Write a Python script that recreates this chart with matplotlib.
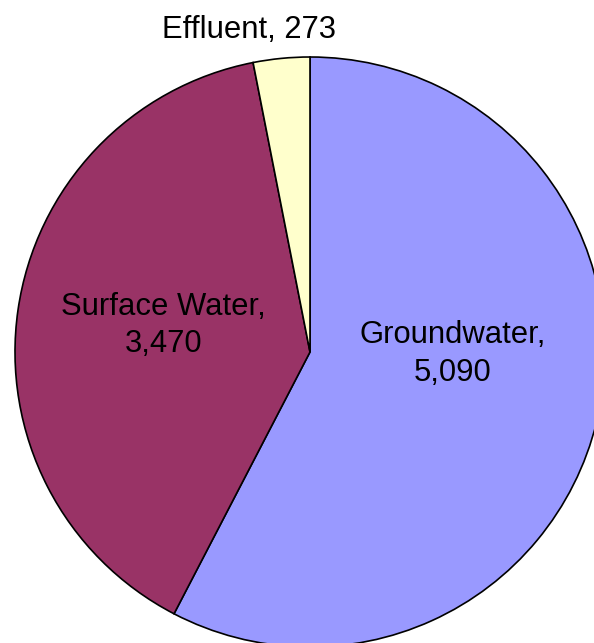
import matplotlib
matplotlib.use("Agg")
import matplotlib.pyplot as plt
import numpy as np

plt.rcParams["font.family"] = ["Liberation Sans", "DejaVu Sans"]

sources = ["Groundwater", "Surface Water", "Effluent"]
volumes = [5090, 3470, 273]
colors = ["#9999FF", "#993366", "#FFFFCC"]

W, H = 594, 643
fig = plt.figure(figsize=(W / 100, H / 100), dpi=100)
ax = fig.add_axes([0, 0, 1, 1])

cx, cy, r = 310, H - 352, 295
wedges, _ = ax.pie(volumes, colors=colors, startangle=90, counterclock=False,
                   center=(cx, cy), radius=r, frame=True,
                   wedgeprops=dict(edgecolor="black", linewidth=1.2))
ax.set_xlim(0, W)
ax.set_ylim(0, H)
ax.set_aspect("equal")
ax.axis("off")

# label positions as (fraction of radius, angle in degrees)
label_pos = [(0.485, -0.8), (0.505, 169.8), (1.11, 100.8)]
for name, v, (f, ang) in zip(sources, volumes, label_pos):
    x = cx + f * r * np.cos(np.radians(ang))
    y = cy + f * r * np.sin(np.radians(ang))
    if name == "Effluent":
        txt = f"{name}, {v:,}"
    else:
        txt = f"{name},\n{v:,}"
    ax.text(x, y, txt, ha="center", va="center", fontsize=22.3,
            linespacing=1.32, color="black")

plt.savefig("out.png", dpi=100)
